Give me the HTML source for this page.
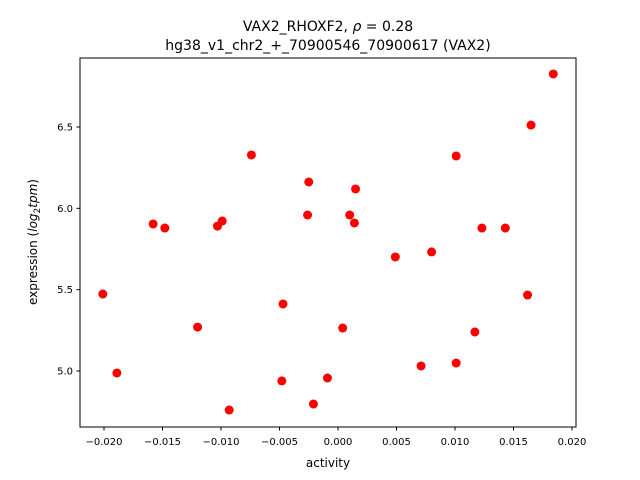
<!DOCTYPE html>
<html><head><meta charset="utf-8"><style>
body{margin:0;background:#fff}
svg{display:block;font-family:"DejaVu Sans","Liberation Sans",sans-serif}
</style></head><body>
<svg id="chart" width="640" height="480">
<rect width="640" height="480" fill="#fff"/>
<text x="328" y="31" text-anchor="middle" font-size="14">VAX2_RHOXF2, <tspan font-style="italic">ρ</tspan> = 0.28</text>
<text x="328" y="50" text-anchor="middle" font-size="14">hg38_v1_chr2_+_70900546_70900617 (VAX2)</text>
<g id="marks"></g>
<rect x="80" y="58" width="496" height="369" fill="none" stroke="#000" stroke-width="1"/>
<g id="axes"></g>
<text x="328" y="467" text-anchor="middle" font-size="12">activity</text>
<text transform="translate(37,242) rotate(-90)" text-anchor="middle" font-size="12">expression (<tspan font-style="italic">log</tspan><tspan font-size="9" dy="3">2</tspan><tspan dy="-3" font-style="italic">tpm</tspan>)</text>
</svg>
<script>
const activity=[-0.0201,-0.0189,-0.0158,-0.0148,-0.0103,-0.0099,-0.0120,-0.0093,-0.0074,-0.0047,-0.0048,-0.0025,-0.0026,-0.0021,-0.0009,0.0004,0.0010,0.0014,0.0015,0.0049,0.0071,0.0080,0.0101,0.0101,0.0117,0.0123,0.0143,0.0162,0.0165,0.0184];
const expression=[5.473,4.988,5.904,5.879,5.891,5.922,5.270,4.760,6.328,5.412,4.939,6.162,5.959,4.797,4.957,5.264,5.959,5.910,6.119,5.701,5.031,5.732,6.322,5.049,5.240,5.879,5.879,5.467,6.512,6.826];
const xTicks=[-0.020,-0.015,-0.010,-0.005,0.000,0.005,0.010,0.015,0.020];
const xTickLabels=["−0.020","−0.015","−0.010","−0.005","0.000","0.005","0.010","0.015","0.020"];
const yTicks=[5.0,5.5,6.0,6.5];
const yTickLabels=["5.0","5.5","6.0","6.5"];
const NS="http://www.w3.org/2000/svg";
function xs(v){return 338+v*11700;}
function ys(v){return 371-(v-5)*162.667;}
const marks=document.getElementById('marks'),axes=document.getElementById('axes');
function mk(t,a,p){const e=document.createElementNS(NS,t);for(const k in a)e.setAttribute(k,a[k]);p.appendChild(e);return e;}
activity.forEach((a,i)=>{
 const c=mk('circle',{cx:xs(a),cy:ys(expression[i]),r:4.5,fill:'#ff0000'},marks);
 
 
});
xTicks.forEach((t,i)=>{
 const x=xs(t);
 const l=mk('line',{x1:x,x2:x,y1:427,y2:430.5,stroke:'#000'},axes);
 
 
 const tx=mk('text',{x:x,y:445,'text-anchor':'middle','font-size':10},axes);
 tx.textContent=xTickLabels[i];
 
 
});
yTicks.forEach((t,i)=>{
 const y=ys(t);
 const l=mk('line',{x1:76.5,x2:80,y1:y,y2:y,stroke:'#000'},axes);
 
 
 const tx=mk('text',{x:73,y:y+3.5,'text-anchor':'end','font-size':10},axes);
 tx.textContent=yTickLabels[i];
 
 
});
</script>
</body></html>
